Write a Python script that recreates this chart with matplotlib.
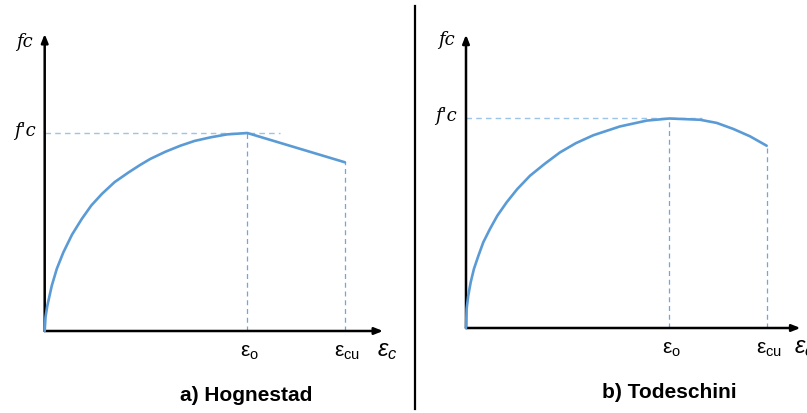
import matplotlib
matplotlib.use("Agg")
import matplotlib.pyplot as plt

plt.rcParams['font.family'] = ['Liberation Sans', 'DejaVu Sans']
plt.rcParams['mathtext.fontset'] = 'custom'
plt.rcParams['mathtext.rm'] = 'Liberation Sans'
plt.rcParams['mathtext.it'] = 'Liberation Sans:italic'

# ---- data (strain / eps0, stress / f'c) ----
hog_strain = [0.0, 0.004, 0.013, 0.035, 0.060, 0.092, 0.135, 0.183, 0.230, 0.282, 0.345,
              0.414, 0.470, 0.521, 0.595, 0.670, 0.740, 0.818, 0.900, 1.0, 1.482]
hog_stress = [0.0, 0.070, 0.128, 0.229, 0.315, 0.397, 0.487, 0.566, 0.634, 0.692, 0.752,
              0.801, 0.838, 0.869, 0.905, 0.936, 0.960, 0.978, 0.993, 1.0, 0.852]

tod_strain = [0.0, 0.003, 0.011, 0.023, 0.039, 0.061, 0.085, 0.118, 0.154, 0.200, 0.252,
              0.315, 0.389, 0.462, 0.540, 0.626, 0.757, 0.889, 1.0,
              1.151, 1.233, 1.315, 1.397, 1.479]
tod_stress = [0.0, 0.091, 0.154, 0.218, 0.282, 0.345, 0.409, 0.473, 0.536, 0.600, 0.663,
              0.727, 0.785, 0.838, 0.882, 0.920, 0.962, 0.990, 1.0,
              0.994, 0.979, 0.950, 0.915, 0.870]

eps0 = 1.0
hog_epscu, hog_fcu = 1.482, 0.852
tod_epscu, tod_fcu = 1.479, 0.870
titles = ["a) Hognestad", "b) Todeschini"]

W, H = 807, 414
fig = plt.figure(figsize=(W / 100, H / 100), dpi=100)

curve_c = '#5b9bd5'
hdash_c = '#9dc3e6'
vdash_c = '#6fa6dc'


def make_ax(ox, oy, sx, sy, xmax, ymax):
    ax = fig.add_axes([ox / W, (H - oy) / H, xmax * sx / W, ymax * sy / H])
    ax.set_xlim(0, xmax)
    ax.set_ylim(0, ymax)
    ax.axis('off')
    return ax


panels = [
    dict(ox=44.7, oy=332, sx=202.6, sy=198, xmax=1.70, ymax=1.52, xarrow=1.67, yarrow=1.50,
         strain=hog_strain, stress=hog_stress, epscu=hog_epscu, fcu=hog_fcu,
         title=titles[0], tpos=(246, 396), fcy=42),
    dict(ox=466, oy=329, sx=203.3, sy=209.5, xmax=1.68, ymax=1.42, xarrow=1.645, yarrow=1.40,
         strain=tod_strain, stress=tod_stress, epscu=tod_epscu, fcu=tod_fcu,
         title=titles[1], tpos=(669, 393), fcy=40),
]

for p in panels:
    ax = make_ax(p['ox'], p['oy'], p['sx'], p['sy'], p['xmax'], p['ymax'])
    arrow = dict(arrowstyle='-|>,head_length=0.5,head_width=0.2', color='black', lw=1.8,
                 shrinkA=0, shrinkB=0)
    ax.annotate('', xy=(p['xarrow'], 0), xytext=(0, 0), arrowprops=arrow, annotation_clip=False)
    ax.annotate('', xy=(0, p['yarrow']), xytext=(0, 0), arrowprops=arrow, annotation_clip=False)
    # guide lines
    ax.plot([0, 1.16], [1.0, 1.0], ls=(0, (4, 3)), color=hdash_c, lw=1.0, clip_on=False)
    ax.plot([eps0, eps0], [0, 1.0], ls=(0, (4, 3)), color=vdash_c, lw=0.9, clip_on=False)
    ax.plot([p['epscu'], p['epscu']], [0, p['fcu']], ls=(0, (4, 3)), color=vdash_c, lw=0.9,
            clip_on=False)
    # curve
    ax.plot(p['strain'], p['stress'], color=curve_c, lw=1.9, solid_capstyle='round',
            solid_joinstyle='round', clip_on=False, zorder=3)
    # labels
    dx = 1.0 / p['sx']
    dy = 1.0 / p['sy']
    ax.text(-20 * dx, (p['oy'] - p['fcy']) * dy, 'fc',
            family='DejaVu Serif', style='italic', fontsize=13, ha='center', va='center',
            clip_on=False)
    ax.text(-20 * dx, 1.0 + 3 * dy, "f'c", family='DejaVu Serif', style='italic',
            fontsize=13, ha='center', va='center', clip_on=False)
    ax.text(eps0 + 2 * dx, -21 * dy, r'$\mathrm{ε_{o}}$', fontsize=15, ha='center',
            va='center', clip_on=False)
    ax.text(p['epscu'] + 2 * dx, -21 * dy, r'$\mathrm{ε_{cu}}$', fontsize=15, ha='center',
            va='center', clip_on=False)
    ax.text(p['xarrow'] + 4 * dx, -19 * dy, r'$\mathit{ε_{c}}$', fontsize=17, ha='center',
            va='center', clip_on=False, fontweight='bold')
    fig.text(p['tpos'][0] / W, 1 - p['tpos'][1] / H, p['title'], fontsize=15,
             fontweight='bold', ha='center', va='center')

# divider
fig.add_artist(plt.Line2D([415 / W, 415 / W], [1 - 7 / H, 1 - 410 / H], color='black', lw=1.6))

fig.savefig('out.png', dpi=100)
